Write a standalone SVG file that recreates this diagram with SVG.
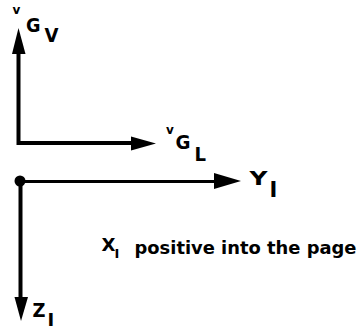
<svg xmlns="http://www.w3.org/2000/svg" width="363" height="331" viewBox="0 0 363 331">
<style>
.ln{stroke:#000;stroke-width:4;fill:none}
.thin{stroke:#000;stroke-width:3;fill:none}
.hd{fill:#000}
.t{font-family:"DejaVu Sans","Liberation Sans",sans-serif;fill:#000;font-weight:bold}
</style>
<rect width="363" height="331" fill="#fff"/>
<g id="connectors">
<path class="ln" d="M18.5,53 V143 H133"/>
<polygon class="hd" points="18.5,28 12,54 25.5,54"/>
<polygon class="hd" points="156,143.5 131,136.5 131,150.5"/>
<path class="thin" d="M20,181.5 H216"/>
<polygon class="hd" points="241,181 214,173 214,189"/>
<path class="ln" d="M20.5,181 V299"/>
<polygon class="hd" points="21,321 14.5,297 28,297"/>
</g>
<g id="origin"><circle cx="20" cy="181" r="5.5" fill="#000"/></g>
<g id="label-vGV">
<text class="t" x="12.5" y="14" font-size="12">v</text>
<text class="t" x="26" y="32" font-size="20" textLength="14.5" lengthAdjust="spacingAndGlyphs">G</text>
<text class="t" x="44.5" y="42" font-size="20" textLength="14" lengthAdjust="spacingAndGlyphs">V</text>
</g>
<g id="label-vGL">
<text class="t" x="166" y="134" font-size="12">v</text>
<text class="t" x="175.5" y="148.5" font-size="20" textLength="15" lengthAdjust="spacingAndGlyphs">G</text>
<text class="t" x="194.5" y="161" font-size="20" textLength="11.5" lengthAdjust="spacingAndGlyphs">L</text>
</g>
<g id="label-YI">
<text class="t" x="249.5" y="185" font-size="20" textLength="18" lengthAdjust="spacingAndGlyphs">Y</text>
<text class="t" x="269.5" y="197" font-size="21">I</text>
</g>
<g id="label-ZI">
<text class="t" x="32.5" y="317" font-size="20" textLength="13" lengthAdjust="spacingAndGlyphs">Z</text>
<text class="t" x="47.5" y="326" font-size="18">I</text>
</g>
<g id="label-XI">
<text class="t" x="101.5" y="250.5" font-size="17" textLength="14" lengthAdjust="spacingAndGlyphs">X</text>
<text class="t" x="114.5" y="257.5" font-size="13">I</text>
<text class="t" x="134.5" y="254" font-size="18.5" textLength="222" lengthAdjust="spacingAndGlyphs">positive into the page</text>
</g>
</svg>
